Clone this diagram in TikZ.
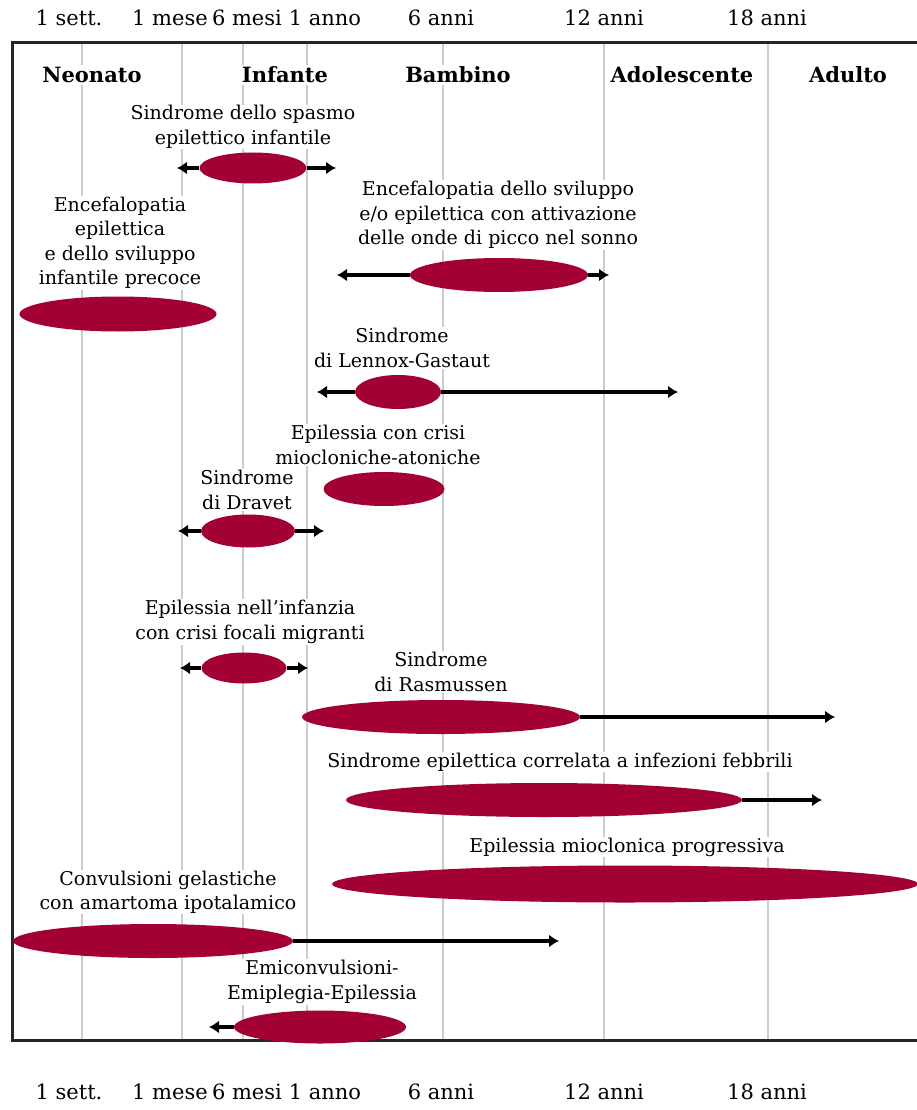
\documentclass[tikz,border=0pt]{standalone}
\usepackage{fontspec}
\setmainfont{DejaVu Serif}
\usetikzlibrary{shapes.geometric,arrows.meta}
\definecolor{epired}{RGB}{163,0,51}
\definecolor{gridgray}{RGB}{204,204,204}

\begin{document}
\begin{tikzpicture}[x=1pt,y=-1pt,
    syndrome/.style={ellipse,fill=epired,inner sep=0pt},
    desc/.style={align=center,fill=white,inner sep=1pt,font=\fontsize{19}{24.5}\selectfont},
    agelbl/.style={font=\fontsize{21}{21}\selectfont},
    stage/.style={fill=white,inner sep=2pt,font=\bfseries\fontsize{21}{21}\selectfont},
    agespan/.style={line width=3.2pt,-{Latex[length=10pt,width=13pt]}},
    agegrid/.style={gridgray,line width=1.6pt}]
    \useasboundingbox (0,0) rectangle (917,1110);

    % age grid
    \draw[agegrid] (82,43) -- (82,1040);
    \draw[agegrid] (182,43) -- (182,1040);
    \draw[agegrid] (243,43) -- (243,1040);
    \draw[agegrid] (307,43) -- (307,1040);
    \draw[agegrid] (443,43) -- (443,1040);
    \draw[agegrid] (604,43) -- (604,1040);
    \draw[agegrid] (768,43) -- (768,1040);
    \draw[line width=3pt,black!85] (925,43) -- (12,43) -- (12,1040) -- (925,1040);

    \node[agelbl] (t1) at (69,18) {1 sett.};
    \node[agelbl] (t2) at (170,18) {1 mese};
    \node[agelbl] (t3) at (247,18) {6 mesi};
    \node[agelbl] (t4) at (325,18) {1 anno};
    \node[agelbl] (t5) at (441,18) {6 anni};
    \node[agelbl] (t6) at (604,18) {12 anni};
    \node[agelbl] (t7) at (767,18) {18 anni};
    \node[agelbl] (b1) at (69,1092) {1 sett.};
    \node[agelbl] (b2) at (170,1092) {1 mese};
    \node[agelbl] (b3) at (247,1092) {6 mesi};
    \node[agelbl] (b4) at (325,1092) {1 anno};
    \node[agelbl] (b5) at (441,1092) {6 anni};
    \node[agelbl] (b6) at (604,1092) {12 anni};
    \node[agelbl] (b7) at (767,1092) {18 anni};

    \node[stage] (neo) at (92,75) {Neonato};
    \node[stage] (inf) at (285,75) {Infante};
    \node[stage] (bam) at (458,75) {Bambino};
    \node[stage] (ado) at (682,75) {Adolescente};
    \node[stage] (adu) at (848,75) {Adulto};

    % syndrome labels
    \node[desc] (lspasm) at (243,127) {Sindrome dello spasmo\\epilettico infantile};
    \node[desc] (lprecoce) at (120,243) {Encefalopatia\\epilettica\\e dello sviluppo\\infantile precoce};
    \node[desc] (lcswss) at (498,215) {Encefalopatia dello sviluppo\\e/o epilettica con attivazione\\delle onde di picco nel sonno};
    \node[desc] (llennox) at (402,348) {Sindrome\\di Lennox-Gastaut};
    \node[desc] (lmat) at (378,445) {Epilessia con crisi\\miocloniche-atoniche};
    \node[desc] (ldravet) at (247,490) {Sindrome\\di Dravet};
    \node[desc] (lmigr) at (250,622) {Epilessia nell'infanzia\\con crisi focali migranti};
    \node[desc] (lrasm) at (441,672) {Sindrome\\di Rasmussen};
    \node[desc] (lfebr) at (560,762) {Sindrome epilettica correlata a infezioni febbrili};
    \node[desc] (lpme) at (627,847) {Epilessia mioclonica progressiva};
    \node[desc] (lgel) at (168,892) {Convulsioni gelastiche\\con amartoma ipotalamico};
    \node[desc] (lhhe) at (322,982) {Emiconvulsioni-\\Emiplegia-Epilessia};

    % age ranges
    \node[syndrome,minimum width=107pt,minimum height=31pt] (spasm) at (253,168) {};
    \coordinate (spasmL) at (177,168);
    \coordinate (spasmR) at (336,168);
    \draw[agespan] (spasm.west) -- (spasmL);
    \draw[agespan] (spasm.east) -- (spasmR);

    \node[syndrome,minimum width=197pt,minimum height=35pt] (precoce) at (118,314) {};

    \node[syndrome,minimum width=178pt,minimum height=34pt] (cswss) at (499,275) {};
    \coordinate (cswssL) at (337,275);
    \coordinate (cswssR) at (609,275);
    \draw[agespan] (cswss.west) -- (cswssL);
    \draw[agespan] (cswss.east) -- (cswssR);

    \node[syndrome,minimum width=86pt,minimum height=34pt] (lennox) at (398,392) {};
    \coordinate (lennoxL) at (317,392);
    \coordinate (lennoxR) at (678,392);
    \draw[agespan] (lennox.west) -- (lennoxL);
    \draw[agespan] (lennox.east) -- (lennoxR);

    \node[syndrome,minimum width=121pt,minimum height=34pt] (mat) at (384,489) {};

    \node[syndrome,minimum width=94pt,minimum height=33pt] (dravet) at (248,531) {};
    \coordinate (dravetL) at (178,531);
    \coordinate (dravetR) at (324,531);
    \draw[agespan] (dravet.west) -- (dravetL);
    \draw[agespan] (dravet.east) -- (dravetR);

    \node[syndrome,minimum width=85pt,minimum height=31pt] (migr) at (244,668) {};
    \coordinate (migrL) at (180,668);
    \coordinate (migrR) at (308,668);
    \draw[agespan] (migr.west) -- (migrL);
    \draw[agespan] (migr.east) -- (migrR);

    \node[syndrome,minimum width=278pt,minimum height=34pt] (rasm) at (441,717) {};
    \coordinate (rasmR) at (835,717);
    \draw[agespan] (rasm.east) -- (rasmR);

    \node[syndrome,minimum width=396pt,minimum height=34pt] (febr) at (544,800) {};
    \coordinate (febrR) at (822,800);
    \draw[agespan] (febr.east) -- (febrR);

    \node[syndrome,minimum width=586pt,minimum height=37pt] (pme) at (625,884) {};

    \node[syndrome,minimum width=280pt,minimum height=34pt] (gel) at (153,941) {};
    \coordinate (gelR) at (559,941);
    \draw[agespan] (gel.east) -- (gelR);

    \node[syndrome,minimum width=172pt,minimum height=33pt] (hhe) at (320,1027) {};
    \coordinate (hheL) at (209,1027);
    \draw[agespan] (hhe.west) -- (hheL);
\end{tikzpicture}
\end{document}
